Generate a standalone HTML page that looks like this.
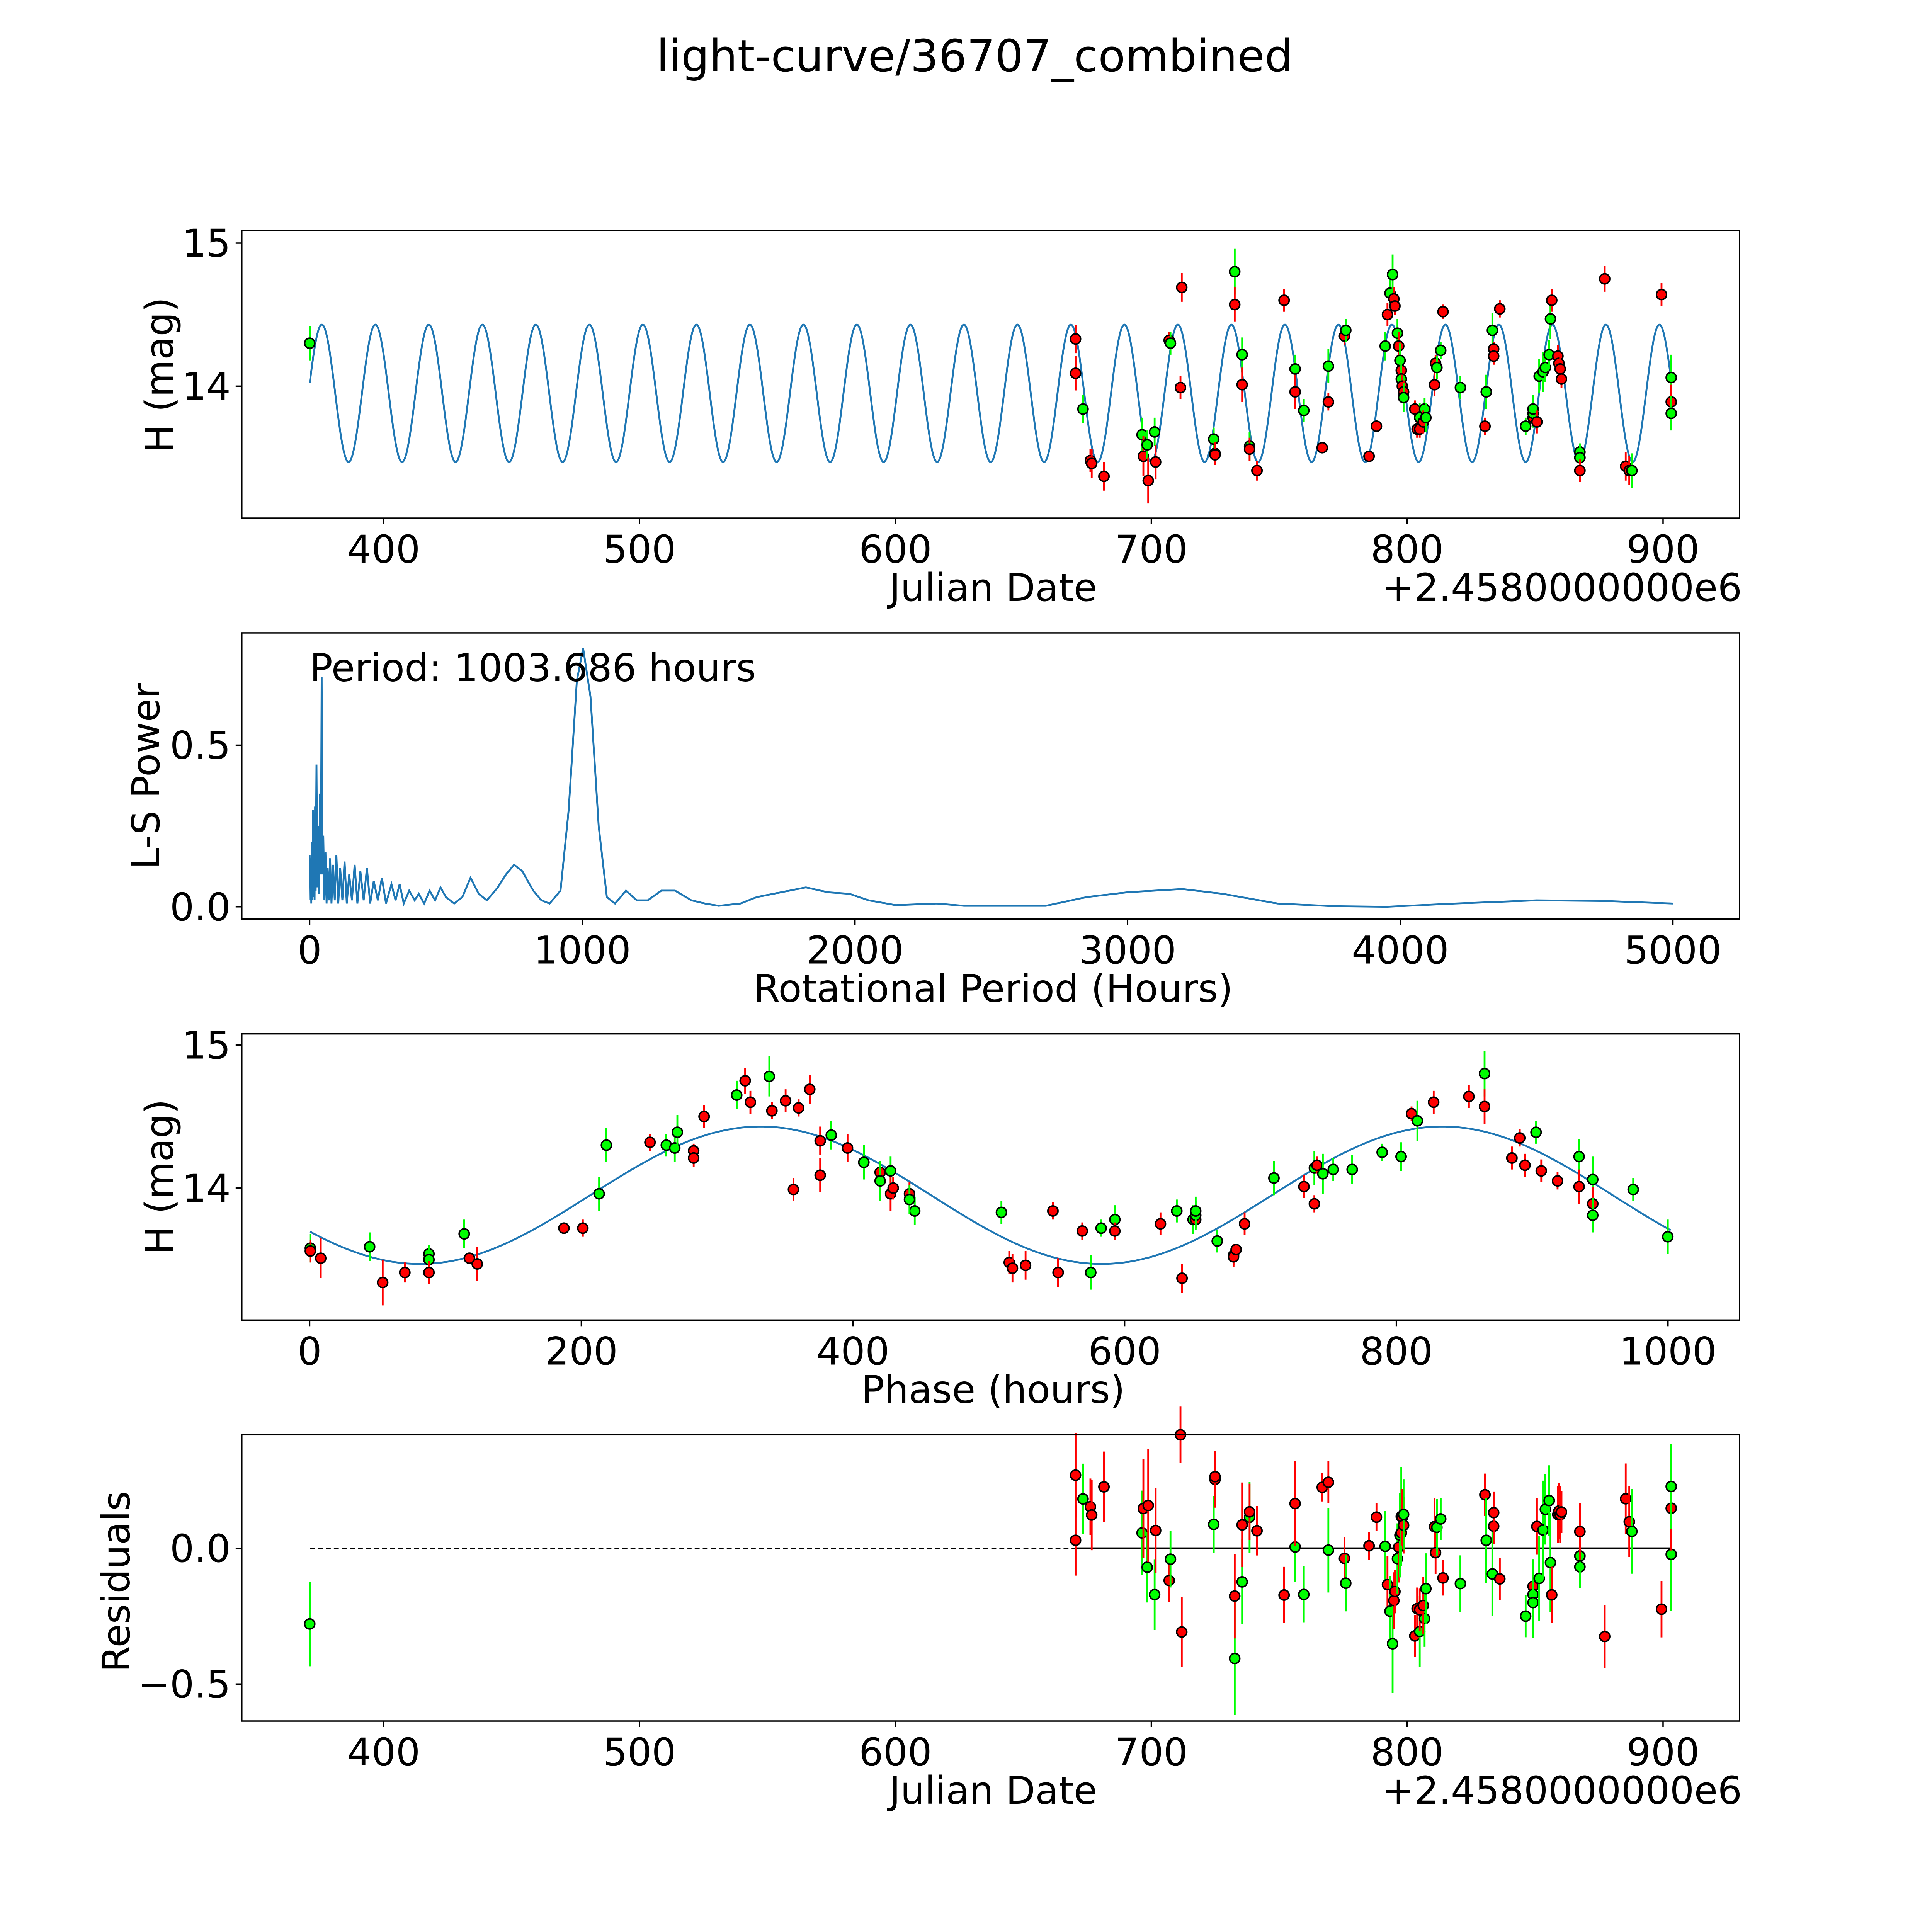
<!DOCTYPE html>
<html><head><meta charset="utf-8"><style>
html,body{margin:0;padding:0;background:#fff;width:100%;height:100%;overflow:hidden;}
svg{display:block;width:100vw;height:100vh;font-family:"DejaVu Sans","Liberation Sans",sans-serif;}
</style></head><body>
<svg id="fig" xmlns="http://www.w3.org/2000/svg" viewBox="0 0 1566 1566" preserveAspectRatio="none">
<rect width="1566" height="1566" fill="#fff"/>
<text x="790" y="58" font-size="36" text-anchor="middle">light-curve/36707_combined</text>
<g id="g1"></g>
<g id="g2"></g>
<g id="g3"></g>
<g id="g4"></g>
</svg>
<script>
const days=[371.1,670.4,670.4,673.3,676.2,676.7,681.5,696.4,696.9,698.4,698.8,701.3,701.7,707.0,707.5,711.4,711.9,724.4,724.9,724.9,732.6,732.6,735.5,735.5,738.4,738.4,741.3,751.9,756.2,756.2,759.6,766.8,769.2,769.2,775.5,776.0,785.1,788.0,791.4,792.3,793.3,794.3,794.8,795.2,796.2,796.7,797.2,797.7,797.7,798.1,798.6,798.6,803.0,803.9,804.9,804.9,806.8,806.3,807.3,810.7,811.1,811.6,813.1,814.0,820.8,830.4,830.9,833.3,833.8,833.8,836.2,846.3,849.2,849.2,849.2,850.7,851.6,853.1,854.0,855.5,856.0,856.5,858.9,859.3,859.8,860.3,867.5,867.5,867.5,877.2,885.4,886.8,887.8,887.8,899.4,903.2,903.2,903.2];
const mags=[14.30,14.33,14.09,13.84,13.48,13.46,13.37,13.66,13.51,13.59,13.34,13.68,13.47,14.32,14.30,13.99,14.69,13.63,13.53,13.52,14.80,14.57,14.22,14.01,13.58,13.56,13.41,14.60,14.12,13.96,13.83,13.57,14.14,13.89,14.35,14.39,13.51,13.72,14.28,14.50,14.65,14.78,14.61,14.56,14.37,14.28,14.18,14.11,14.05,14.00,13.96,13.92,13.84,13.70,13.78,13.70,13.84,13.75,13.78,14.01,14.16,14.13,14.25,14.52,13.99,13.72,13.96,14.39,14.26,14.21,14.54,13.72,13.78,13.81,13.84,13.75,14.07,14.10,14.13,14.22,14.47,14.60,14.21,14.16,14.12,14.05,13.54,13.50,13.41,14.75,13.44,13.41,13.41,13.41,14.64,14.06,13.89,13.81];
const filters=['g','r','r','g','r','r','r','g','r','g','r','g','r','r','g','r','r','g','r','r','g','r','g','r','g','r','r','r','g','r','g','r','g','r','r','g','r','r','g','r','g','g','r','r','g','r','g','r','g','r','r','g','r','r','g','r','g','r','g','r','r','g','g','r','g','r','g','g','r','r','r','g','r','g','g','r','g','g','g','g','g','r','r','r','r','r','g','g','r','r','r','r','r','g','r','g','r','g'];
const errs=[0.12,0.1,0.12,0.1,0.08,0.1,0.1,0.12,0.14,0.1,0.16,0.1,0.12,0.06,0.08,0.08,0.1,0.08,0.08,0.06,0.16,0.12,0.12,0.12,0.1,0.08,0.07,0.08,0.1,0.12,0.08,0.04,0.12,0.06,0.06,0.08,0.04,0.04,0.1,0.08,0.1,0.14,0.08,0.06,0.1,0.1,0.12,0.08,0.14,0.08,0.08,0.1,0.06,0.06,0.1,0.06,0.08,0.08,0.1,0.08,0.06,0.08,0.06,0.05,0.08,0.06,0.12,0.12,0.05,0.06,0.06,0.06,0.06,0.1,0.1,0.08,0.12,0.14,0.1,0.1,0.14,0.08,0.08,0.08,0.08,0.06,0.06,0.08,0.08,0.09,0.1,0.1,0.08,0.12,0.08,0.16,0.12,0.12];
const lsPeriods=[0,2,4,6,8,10,12,14,16,18,20,22,25,28,31,34,38,41,44,47,50,54,58,62,66,70,75,80,86,92,98,105,112,120,128,136,145,155,165,175,186,198,210,222,235,250,265,280,300,315,330,345,365,385,400,420,440,460,480,500,530,560,590,620,650,690,720,750,780,820,850,880,920,950,980,1003,1030,1060,1090,1120,1160,1200,1240,1290,1340,1400,1450,1500,1580,1640,1700,1820,1900,1980,2050,2150,2300,2400,2700,2850,3000,3200,3350,3550,3750,3950,4200,4500,4750,5000];
const lsPowers=[0.16,0.02,0.15,0.01,0.2,0.02,0.3,0.03,0.22,0.02,0.31,0.05,0.44,0.06,0.25,0.04,0.35,0.1,0.71,0.1,0.22,0.02,0.17,0.01,0.12,0.02,0.15,0.01,0.13,0.02,0.16,0.01,0.12,0.02,0.14,0.01,0.1,0.02,0.13,0.01,0.11,0.02,0.12,0.01,0.08,0.02,0.09,0.01,0.07,0.02,0.07,0.01,0.05,0.02,0.04,0.01,0.05,0.02,0.06,0.03,0.01,0.03,0.09,0.04,0.02,0.06,0.1,0.13,0.11,0.05,0.02,0.01,0.05,0.3,0.7,0.8,0.65,0.25,0.03,0.01,0.05,0.02,0.02,0.05,0.05,0.02,0.01,0.003,0.01,0.03,0.04,0.06,0.045,0.04,0.02,0.005,0.01,0.003,0.003,0.03,0.045,0.055,0.04,0.01,0.002,0,0.01,0.02,0.018,0.01];
const xTicks1=[400,500,600,700,800,900];
const yTicksMag=[14,15];
const xTicksLS=[0,1000,2000,3000,4000,5000];
const yTicksLS=[0.0,0.5];
const xTicksPhase=[0,200,400,600,800,1000];
const yTicksRes=[0.0,-0.5];
const bestPeriod=1003.686, t0=696.56, mean=13.95, amp=0.48, peakPhase=332;

const NS='http://www.w3.org/2000/svg';
function mk(parent,tag,attrs){const e=document.createElementNS(NS,tag);for(const k in attrs)e.setAttribute(k,attrs[k]);parent.appendChild(e);return e;}
function lin(d0,d1,r0,r1){return v=>r0+(v-d0)*(r1-r0)/(d1-d0);}
function model(ph){return mean+amp*Math.cos(2*Math.PI*(ph-peakPhase)/(bestPeriod/2));}
function phaseOf(d){let p=((d-t0)*24)%bestPeriod;if(p<0)p+=bestPeriod;return p;}
const col={r:'#ff0000',g:'#00ff00'};
const L=196,R=1410;
const FS=31;

function frame(g,top,bot,xs,ys,xt,yt,fmtX,fmtY){
  for(const t of xt){const x=xs(t);
    const tk=mk(g,'line',{x1:x,x2:x,y1:bot,y2:bot+5,stroke:'#000','stroke-width':1.1});
    
    const tl=mk(g,'text',{x:x,y:bot+36,'font-size':FS,'text-anchor':'middle'});tl.textContent=fmtX(t);
    }
  for(const t of yt){const y=ys(t);
    const tk=mk(g,'line',{x1:L-5,x2:L,y1:y,y2:y,stroke:'#000','stroke-width':1.1});
    
    const tl=mk(g,'text',{x:L-9,y:y+11,'font-size':FS,'text-anchor':'end'});tl.textContent=fmtY(t);
    }
  const r=mk(g,'rect',{x:L,y:top,width:R-L,height:bot-top,fill:'none',stroke:'#000','stroke-width':1.1});
  
}
function label(g,txt,x,y,rot,name,anchor){
  const t=mk(g,'text',{x:x,y:y,'font-size':FS,'text-anchor':anchor||'middle'});
  if(rot)t.setAttribute('transform','rotate(-90 '+x+' '+y+')');
  t.textContent=txt;
}
function point(g,cx,cy,ylo,yhi,c){
  const e=mk(g,'line',{x1:cx,x2:cx,y1:ylo,y2:yhi,stroke:c,'stroke-width':1.5});
  
  const p=mk(g,'circle',{cx:cx,cy:cy,r:4.1,fill:c,stroke:'#000','stroke-width':1.2});
  
}
const fmtInt=v=>String(v);
const fmtMinus=v=>(v<0?'\u2212':'')+Math.abs(v).toFixed(1);

{const g=document.getElementById('g1');const top=187,bot=420;
 const xs=lin(400,900,311,1348), ys=lin(14,15,313,197);
 let d='';for(let t=days[0];t<=days[days.length-1];t+=0.2){d+=(d?'L':'M')+xs(t).toFixed(2)+' '+ys(model(phaseOf(t))).toFixed(2);}
 const c=mk(g,'path',{d:d,fill:'none',stroke:'#1f77b4','stroke-width':1.5});
 
 days.forEach((dd,i)=>point(g,xs(dd),ys(mags[i]),ys(mags[i]-errs[i]),ys(mags[i]+errs[i]),col[filters[i]]));
 frame(g,top,bot,xs,ys,xTicks1,yTicksMag,fmtInt,fmtInt);
 label(g,'H (mag)',140,304,true,'y-axis-title');
 label(g,'Julian Date',805,487,false,'x-axis-title');
 label(g,'+2.4580000000e6',1412,487,false,'x-axis-offset','end');}

{const g=document.getElementById('g2');const top=513,bot=745;
 const xs=lin(0,5000,251,1356), ys=lin(0,0.5,735,604);
 let d='';lsPeriods.forEach((p,i)=>{d+=(i?'L':'M')+xs(p).toFixed(2)+' '+ys(lsPowers[i]).toFixed(2);});
 const c=mk(g,'path',{d:d,fill:'none',stroke:'#1f77b4','stroke-width':1.5});
 
 frame(g,top,bot,xs,ys,xTicksLS,yTicksLS,fmtInt,v=>v.toFixed(1));
 label(g,'L-S Power',129,629,true,'y-axis-title');
 label(g,'Rotational Period (Hours)',805,812,false,'x-axis-title');
 label(g,'Period: '+bestPeriod.toFixed(3)+' hours',251,552,false,'period-annotation','start');}

{const g=document.getElementById('g3');const top=838,bot=1070;
 const xs=lin(0,1000,251,1352), ys=lin(14,15,963,847);
 let d='';for(let p=0;p<=bestPeriod;p+=2){d+=(d?'L':'M')+xs(p).toFixed(2)+' '+ys(model(p)).toFixed(2);}
 const c=mk(g,'path',{d:d,fill:'none',stroke:'#1f77b4','stroke-width':1.5});
 
 days.forEach((dd,i)=>{const p=phaseOf(dd);point(g,xs(p),ys(mags[i]),ys(mags[i]-errs[i]),ys(mags[i]+errs[i]),col[filters[i]]);});
 frame(g,top,bot,xs,ys,xTicksPhase,yTicksMag,fmtInt,fmtInt);
 label(g,'H (mag)',140,954,true,'y-axis-title');
 label(g,'Phase (hours)',805,1137,false,'x-axis-title');}

{const g=document.getElementById('g4');const top=1163,bot=1395;
 const xs=lin(400,900,311,1348), ys=lin(0,-0.5,1255,1365);
 const d1=mk(g,'line',{x1:xs(days[0]),x2:xs(days[1]),y1:ys(0),y2:ys(0),stroke:'#000','stroke-width':1.1,'stroke-dasharray':'4 2.5'});
 
 const d2=mk(g,'line',{x1:xs(days[1]),x2:xs(days[days.length-1]),y1:ys(0),y2:ys(0),stroke:'#000','stroke-width':1.5});
 
 days.forEach((dd,i)=>{const r=model(phaseOf(dd))-mags[i];const e=errs[i]*1.3;point(g,xs(dd),ys(r),ys(r-e),ys(r+e),col[filters[i]]);});
 frame(g,top,bot,xs,ys,xTicks1,yTicksRes,fmtInt,fmtMinus);
 label(g,'Residuals',105,1282,true,'y-axis-title');
 label(g,'Julian Date',805,1462,false,'x-axis-title');
 label(g,'+2.4580000000e6',1412,1462,false,'x-axis-offset','end');}
</script>
</body></html>
